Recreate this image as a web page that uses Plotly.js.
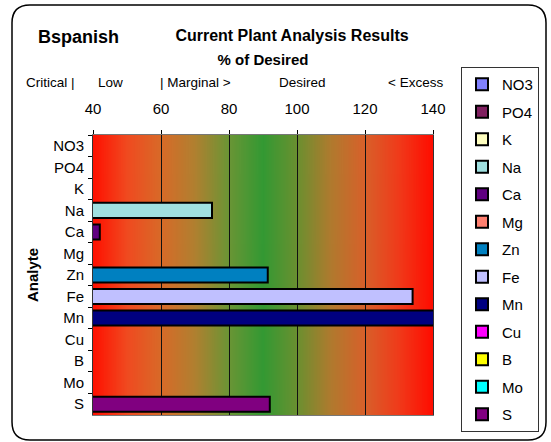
<!DOCTYPE html>
<html>
<head>
<meta charset="utf-8">
<script src="https://cdn.plot.ly/plotly-3.0.1.min.js"></script>
<style>
html,body{margin:0;padding:0;background:#fff;}
#chart{width:551px;height:442px;}
</style>
</head>
<body>
<div id="chart"></div>
<script>
// ---- data ----
const analytes = ['NO3','PO4','K','Na','Ca','Mg','Zn','Fe','Mn','Cu','B','Mo','S'];
const percentOfDesired = [null, null, null, 75, 42, null, 91.4, 134, 141.4, null, null, null, 92];
const seriesColors = ['#8080FF','#802060','#FFFFC0','#A0E0E0','#600080','#FF8070','#0080C0','#C0C0FF','#000080','#FF00FF','#FFFF00','#00FFFF','#800080'];
const xTicks = [40, 60, 80, 100, 120, 140];
const zoneLabels = ['Critical |', 'Low', '| Marginal >', 'Desired', '< Excess'];
const chartTitle = 'Current Plant Analysis Results';
const siteName = 'Bspanish';
const xTitle = '% of Desired';
const yTitle = 'Analyte';

// ---- style / layout helpers ----
const FONT = 'Liberation Sans, Arial, sans-serif';
const W = 551, H = 442;
const L = 93, R = 433, T = 135, B = 415;
const px = x => (x - L) / (R - L);
const py = y => (B - y) / (B - T);

// background gradient (red - green - red) drawn onto canvas
const gradStops = [
  [0.00, '#FF1000'], [0.10, '#F04A20'], [0.20, '#D86A28'], [0.30, '#B08030'],
  [0.40, '#6A9535'], [0.50, '#339933'], [0.60, '#6A9030'], [0.70, '#B07A2E'],
  [0.80, '#D8602A'], [0.90, '#F03A1A'], [1.00, '#FF0C00']
];
const cv = document.createElement('canvas');
cv.width = 400; cv.height = 4;
const ctx = cv.getContext('2d');
const g = ctx.createLinearGradient(0, 0, 400, 0);
gradStops.forEach(s => g.addColorStop(s[0], s[1]));
ctx.fillStyle = g; ctx.fillRect(0, 0, 400, 4);
const gradURL = cv.toDataURL('image/png');

const traces = analytes.map((a, i) => ({
  type: 'bar',
  orientation: 'h',
  name: a,
  legendgroup: a,
  y: [a],
  x: [percentOfDesired[i]],
  width: 0.7,
  cliponaxis: false,
  marker: {color: seriesColors[i], line: {color: '#000', width: 2}},
  hoverinfo: 'x+y'
}));

const zoneX = [50, 110, 195, 302, 415];
const annotations = zoneLabels.map((t, i) => ({
  text: t, xref: 'paper', yref: 'paper', x: px(zoneX[i]), y: py(82),
  xanchor: 'center', yanchor: 'middle', showarrow: false,
  font: {family: FONT, size: 13.5, color: '#000'}
}));
annotations.push({
  text: siteName, xref: 'paper', yref: 'paper', x: px(78), y: py(37),
  xanchor: 'center', yanchor: 'middle', showarrow: false,
  font: {family: FONT, size: 18, color: '#000', weight: 'bold'}
});

const rr = 18, fx0 = 12, fy0 = 5, fx1 = 546, fy1 = 440;
const framePath = `M${px(fx0 + rr)},${py(fy0)} L${px(fx1 - rr)},${py(fy0)} Q${px(fx1)},${py(fy0)} ${px(fx1)},${py(fy0 + rr)} ` +
  `L${px(fx1)},${py(fy1 - rr)} Q${px(fx1)},${py(fy1)} ${px(fx1 - rr)},${py(fy1)} L${px(fx0 + rr)},${py(fy1)} ` +
  `Q${px(fx0)},${py(fy1)} ${px(fx0)},${py(fy1 - rr)} L${px(fx0)},${py(fy0 + rr)} Q${px(fx0)},${py(fy0)} ${px(fx0 + rr)},${py(fy0)} Z`;

const layout = {
  width: W, height: H,
  margin: {l: L, r: W - R, t: T, b: H - B, pad: 0, autoexpand: false},
  paper_bgcolor: '#fff',
  plot_bgcolor: '#fff',
  font: {family: FONT, size: 15, color: '#000'},
  barmode: 'overlay',
  title: {
    text: chartTitle, xref: 'container', yref: 'container',
    x: 292 / W, y: 1 - 35 / H, xanchor: 'center', yanchor: 'middle',
    font: {family: FONT, size: 16, color: '#000', weight: 'bold'}
  },
  xaxis: {
    side: 'top', range: [40, 140], tickvals: xTicks, ticktext: xTicks.map(String),
    ticks: 'outside', ticklen: 4, tickcolor: '#000', ticklabelstandoff: 10,
    showgrid: true, gridcolor: '#111', gridwidth: 1, zeroline: false,
    showline: true, linecolor: '#777', linewidth: 1, mirror: true,
    tickfont: {family: FONT, size: 15, color: '#000'},
    title: {text: xTitle, standoff: 30, font: {family: FONT, size: 15, color: '#000', weight: 'bold'}},
    fixedrange: true
  },
  yaxis: {
    type: 'category', categoryorder: 'array', categoryarray: analytes,
    autorange: 'reversed', tickson: 'boundaries', ticks: 'outside', ticklen: 4,
    tickcolor: '#000', ticklabelstandoff: 5, showgrid: false, zeroline: false,
    showline: true, linecolor: '#333', linewidth: 1, mirror: true,
    tickfont: {family: FONT, size: 15, color: '#000'},
    title: {text: yTitle, standoff: 10, font: {family: FONT, size: 15, color: '#000', weight: 'bold'}},
    fixedrange: true
  },
  legend: {
    x: px(461), y: py(67), xanchor: 'left', yanchor: 'top',
    bgcolor: '#fff', bordercolor: '#333', borderwidth: 1,
    font: {family: FONT, size: 15, color: '#000'},
    traceorder: 'grouped', tracegroupgap: 5, maxheight: 430
  },
  images: [{
    source: gradURL, xref: 'x', yref: 'paper', x: 40, y: 1, sizex: 100, sizey: 1,
    sizing: 'stretch', layer: 'below', xanchor: 'left', yanchor: 'top'
  }],
  shapes: [{
    type: 'path', xref: 'paper', yref: 'paper', path: framePath,
    line: {color: '#000', width: 1.5}, fillcolor: 'rgba(0,0,0,0)', layer: 'below'
  }],
  annotations: annotations,
  showlegend: true
};

Plotly.newPlot('chart', traces, layout, {displayModeBar: false, staticPlot: true});
</script>
</body>
</html>
